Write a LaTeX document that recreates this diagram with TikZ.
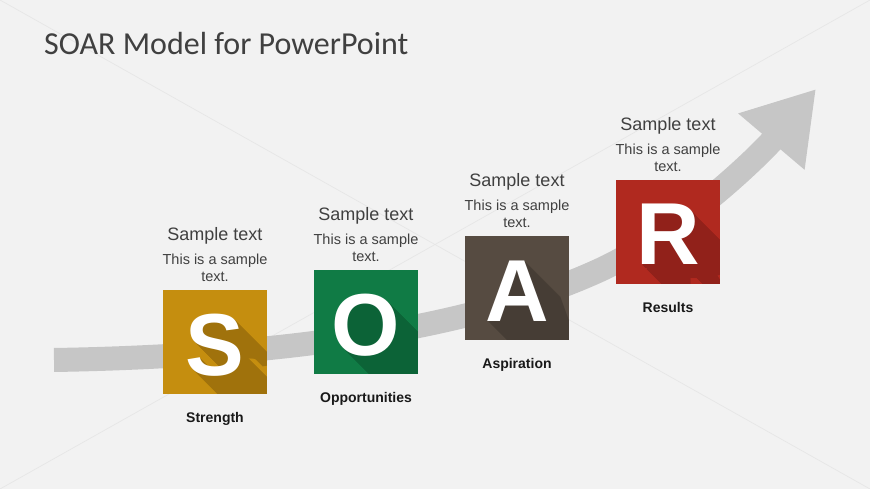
\documentclass[tikz,border=0pt]{standalone}
\usepackage{fontspec}
\setmainfont{Liberation Sans}
\newfontfamily\titlefont{Carlito}
\usetikzlibrary{positioning,arrows.meta}

\definecolor{slidebg}{HTML}{F2F2F2}
\definecolor{bandgray}{HTML}{C6C6C6}
\definecolor{diaggray}{HTML}{E6E6E6}
\definecolor{textgray}{HTML}{404040}
\definecolor{boxs}{HTML}{C58E0F}
\definecolor{shades}{HTML}{A0720C}
\definecolor{boxo}{HTML}{107B45}
\definecolor{shadeo}{HTML}{0C6337}
\definecolor{boxa}{HTML}{564B41}
\definecolor{shadea}{HTML}{463D35}
\definecolor{boxr}{HTML}{B0291F}
\definecolor{shader}{HTML}{91211A}

\tikzset{
  letterbox/.style={minimum size=104pt, inner sep=0pt, outer sep=0pt, draw=none},
  bigletter/.style={anchor=base, inner sep=0pt, text=white,
    font=\fontsize{88}{88}\selectfont\bfseries},
  headtext/.style={inner sep=0pt, text=textgray, font=\fontsize{18}{20}\selectfont},
  desctext/.style={inner sep=0pt, text=textgray, align=center,
    font=\fontsize{14.5}{17}\selectfont},
  labeltext/.style={inner sep=0pt, text=black!90, font=\fontsize{14}{16}\selectfont\bfseries},
  titletext/.style={inner sep=0pt, text=textgray, font=\titlefont\fontsize{32}{36}\selectfont},
  arrowband/.style={draw=bandgray, line width=24pt,
    -{Triangle[length=69pt,width=82pt]}}
}

\begin{document}
\begin{tikzpicture}[x=1pt,y=-1pt]
  \useasboundingbox (0,0) rectangle (870,489);
  \fill[slidebg] (0,0) rectangle (870,489);
  % faint slide diagonals
  \draw[diaggray, line width=0.7pt] (0,0) -- (870,489);
  \draw[diaggray, line width=0.7pt] (0,489) -- (870,0);

  \node[titletext, anchor=base west] (title) at (44,55) {SOAR Model for PowerPoint};

  % growth arrow behind the boxes
  \coordinate (tail) at (54,360);
  \coordinate (bend) at (600,270);
  \coordinate (tip) at (816,89);
  \draw[arrowband] (tail) .. controls (300,356) and (480,325) .. (bend)
    .. controls (680,233) and (760,155) .. (tip);

  \foreach \n/\cx/\cy/\ltr/\lab in {s/215/342/S/Strength, o/366/322/O/Opportunities,
      a/517/288/A/Aspiration, r/668/232/R/Results} {
    \node[letterbox, fill=box\n] (box-\n) at (\cx,\cy) {};
    % long shadow of the letter, kept just inside the box
    \begin{scope}
      \clip ([shift={(0.8pt,0.8pt)}]box-\n.south west)
        rectangle ([shift={(-0.8pt,-0.8pt)}]box-\n.north east);
      \foreach \k in {1,...,36}
        \node[bigletter, text=shade\n] at (\cx+\k, \cy+33+\k) {\ltr};
    \end{scope}
    \node[bigletter] (letter-\n) at (\cx,\cy+33) {\ltr};
    \node[desctext, above=8pt of box-\n] (desc-\n) {This is a sample\\text.};
    \node[headtext, above=10pt of desc-\n] (head-\n) {Sample text};
    \node[labeltext, below=18pt of box-\n] (label-\n) {\lab};
  }
\end{tikzpicture}
\end{document}
